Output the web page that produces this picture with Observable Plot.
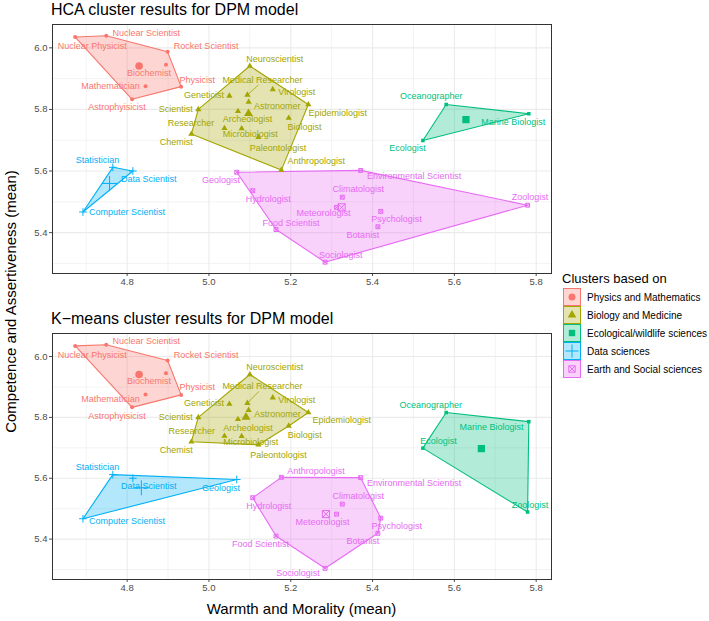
<!DOCTYPE html>
<html>
<head>
<meta charset="utf-8">
<script src="https://cdn.jsdelivr.net/npm/d3@7"></script>
<script src="https://cdn.jsdelivr.net/npm/@observablehq/plot@0.6"></script>
<style>
  html, body { margin:0; padding:0; background:#fff; }
  body { font-family: "Liberation Sans", Arial, Helvetica, sans-serif; }
  #wrap { position:relative; width:709px; height:621px; overflow:hidden; }
  .abs { position:absolute; white-space:nowrap; line-height:1; }
  .ptitle { font-size:16px; color:#000; }
  .atitle { font-size:15px; color:#000; }
</style>
</head>
<body>
<div id="wrap"></div>
<script>
// ---------------- DATA ----------------
const professions = [
  "Nuclear Physicist","Nuclear Scientist","Rocket Scientist","Biochemist","Physicist","Mathematician","Astrophyisicist",
  "Neuroscientist","Medical Researcher","Virologist","Epidemiologist","Geneticist","Astronomer","Scientist",
  "Archeologist","Biologist","Researcher","Microbiologist","Paleontologist","Chemist","Anthropologist",
  "Oceanographer","Marine Biologist","Ecologist","Zoologist",
  "Statistician","Data Scientist","Computer Scientist","Geologist",
  "Environmental Scientist","Climatologist","Meteorologist","Psychologist","Botanist","Sociologist","Food Scientist","Hydrologist"
];
const warmth = [
  4.673, 4.749, 4.899, 4.895, 4.932, 4.845, 4.812,
  5.100, 5.094, 5.156, 5.243, 5.050, 5.097, 4.974,
  5.071, 5.195, 5.038, 5.080, 5.121, 4.957, 5.177,
  5.580, 5.782, 5.523, 5.779,
  4.765, 4.814, 4.692, 5.068,
  5.371, 5.326, 5.312, 5.420, 5.413, 5.284, 5.164, 5.107
];
const competence = [
  6.035, 6.039, 5.987, 5.945, 5.874, 5.875, 5.833,
  5.941, 5.847, 5.865, 5.816, 5.844, 5.824, 5.800,
  5.794, 5.772, 5.739, 5.738, 5.710, 5.720, 5.603,
  5.816, 5.786, 5.699, 5.489,
  5.612, 5.600, 5.467, 5.596,
  5.602, 5.515, 5.482, 5.469, 5.419, 5.304, 5.410, 5.536
];
// cluster index into clusterNames
const hcaCluster = [
  0,0,0,0,0,0,0,
  1,1,1,1,1,1,1,
  1,1,1,1,1,1,1,
  2,2,2,4,
  3,3,3,4,
  4,4,4,4,4,4,4,4
];
const kmeansCluster = [
  0,0,0,0,0,0,0,
  1,1,1,1,1,1,1,
  1,1,1,1,1,1,4,
  2,2,2,2,
  3,3,3,3,
  4,4,4,4,4,4,4,4
];
const clusterNames = ["Physics and Mathematics","Biology and Medicine","Ecological/wildlife sciences","Data sciences","Earth and Social sciences"];
const panelTitles = ["HCA cluster results for DPM model","K\u2212means cluster results for DPM model"];
const xTicks = [4.8, 5.0, 5.2, 5.4, 5.6, 5.8];
const xMinor = [4.7, 4.9, 5.1, 5.3, 5.5, 5.7];
const yTicks = [5.4, 5.6, 5.8, 6.0];
const yMinor = [5.3, 5.5, 5.7, 5.9];
const xTitle = "Warmth and Morality (mean)";
const yTitle = "Competence and Assertiveness (mean)";
const legendTitle = "Clusters based on";

// ---------------- STYLE / LAYOUT ----------------
const clusterColors = ["#F8766D","#A3A500","#00BF7D","#00B0F6","#E76BF3"];
const squareCross = { draw(ctx, size) { const s = Math.sqrt(size) / 2;
  ctx.moveTo(-s,-s); ctx.lineTo(s,-s); ctx.lineTo(s,s); ctx.lineTo(-s,s); ctx.closePath();
  ctx.moveTo(-s,-s); ctx.lineTo(s,s); ctx.moveTo(s,-s); ctx.lineTo(-s,s); } };
const symbolRange = ["circle","triangle","square","plus", squareCross];
const filledCluster = [true,true,true,false,false];
const memberR = [2.0, 2.3, 2.0, 2.6, 2.2];
const centroidR = [3.8, 3.3, 4.1, 4.9, 4.0];

// label offsets (pixels) from each point, repel-style
const hcaNudge = {
  "Nuclear Physicist":[17,9],"Nuclear Scientist":[40,-3],"Rocket Scientist":[38.5,-6],"Biochemist":[-17,8],
  "Physicist":[16,-7],"Mathematician":[-35,0],"Astrophyisicist":[-15,8.3],
  "Neuroscientist":[25,-6.6],"Medical Researcher":[15,-15],"Virologist":[24,3],"Epidemiologist":[29.5,8.7],
  "Geneticist":[-25.5,-0.6],"Astronomer":[28.6,4.3],"Scientist":[-22.6,-0.7],"Archeologist":[9.5,8.3],
  "Biologist":[15.7,9],"Researcher":[-33.4,-5.3],"Microbiologist":[8.7,6],"Paleontologist":[19.6,10.7],
  "Chemist":[-15,8.3],"Anthropologist":[34.8,-9],
  "Oceanographer":[-15,-8.3],"Marine Biologist":[-15.5,8],"Ecologist":[-15.3,8],"Zoologist":[2.4,-8],
  "Statistician":[-15.2,-7.3],"Data Scientist":[16,7.7],"Computer Scientist":[44,0],"Geologist":[-15.7,8],
  "Environmental Scientist":[53.4,5.7],"Climatologist":[16,-8],"Meteorologist":[-13,5.3],"Psychologist":[15.7,7.3],
  "Botanist":[-15,8.3],"Sociologist":[15.7,-7],"Food Scientist":[15,-6.6],"Hydrologist":[15.6,8.6]
};
const kmNudge = {
  "Nuclear Physicist":[17,9],"Nuclear Scientist":[40,-3.6],"Rocket Scientist":[38.5,-5.7],"Biochemist":[-17,8],
  "Physicist":[16,-7.4],"Mathematician":[-35,5],"Astrophyisicist":[-15,8.3],
  "Neuroscientist":[25,-7],"Medical Researcher":[15,-16.7],"Virologist":[24,2.4],"Epidemiologist":[33.5,8],
  "Geneticist":[-25.5,-1.4],"Astronomer":[29,4],"Scientist":[-22.6,-0.6],"Archeologist":[10,8.7],
  "Biologist":[16,9],"Researcher":[-32.7,-5.3],"Microbiologist":[9,6],"Paleontologist":[20,10],
  "Chemist":[-15,8],"Anthropologist":[34.6,-6.3],
  "Oceanographer":[-15.5,-7.4],"Marine Biologist":[-37.4,5.7],"Ecologist":[15.7,-7.4],"Zoologist":[2.4,-7.4],
  "Statistician":[-15.2,-7.6],"Data Scientist":[15.8,8],"Computer Scientist":[44,2.6],"Geologist":[-15.7,8.4],
  "Environmental Scientist":[53.4,5.3],"Climatologist":[16,-7.7],"Meteorologist":[-14,8],"Psychologist":[16,8.3],
  "Botanist":[-15,7.6],"Sociologist":[-27,5],"Food Scientist":[-15.6,7.6],"Hydrologist":[16,8.6]
};
const segName = "Medical Researcher";

const W = 560, ML = 52, MR = 9;
const xExt = d3.extent(warmth), yExt = d3.extent(competence);
const xDomain = [xExt[0] - 0.05*(xExt[1]-xExt[0]), xExt[1] + 0.05*(xExt[1]-xExt[0])];
const yDomain = [yExt[0] - 0.05*(yExt[1]-yExt[0]), yExt[1] + 0.05*(yExt[1]-yExt[0])];

function makePanel(assign, nudge, seg, H, MT, MB) {
  const rows = professions.map((name, i) => ({name, x: warmth[i], y: competence[i], cluster: clusterNames[assign[i]]}));
  const kx = (W - ML - MR) / (xDomain[1] - xDomain[0]);
  const ky = (H - MT - MB) / (yDomain[1] - yDomain[0]);
  const hull = [];
  clusterNames.forEach(c => {
    const pts = rows.filter(r => r.cluster === c).map(r => [r.x, r.y]);
    const h = d3.polygonHull(pts);
    [...h, h[0]].forEach(p => hull.push({cluster: c, x: p[0], y: p[1]}));
  });
  const cent = clusterNames.map(c => {
    const rs = rows.filter(r => r.cluster === c);
    return {cluster: c, x: d3.mean(rs, r => r.x), y: d3.mean(rs, r => r.y)};
  });
  const marks = [
    Plot.ruleX(xMinor, {stroke: "#EBEBEB", strokeWidth: 0.6}),
    Plot.ruleY(yMinor, {stroke: "#EBEBEB", strokeWidth: 0.6}),
    Plot.ruleX(xTicks, {stroke: "#EBEBEB", strokeWidth: 1.1}),
    Plot.ruleY(yTicks, {stroke: "#EBEBEB", strokeWidth: 1.1}),
    Plot.line(hull, {x: "x", y: "y", z: "cluster", stroke: "cluster", fill: "cluster", fillOpacity: 0.3, strokeWidth: 1.1}),
    Plot.link(rows.filter(r => r.name === segName), {
      x1: "x", y1: "y", x2: d => d.x + seg[0] / kx, y2: d => d.y - seg[1] / ky, stroke: "cluster", strokeWidth: 0.8
    })
  ];
  clusterNames.forEach((c, ci) => {
    const mem = rows.filter(r => r.cluster === c);
    const cen = cent.filter(r => r.cluster === c);
    if (filledCluster[ci]) {
      marks.push(Plot.dot(mem, {x: "x", y: "y", symbol: "cluster", fill: "cluster", r: memberR[ci]}));
      marks.push(Plot.dot(cen, {x: "x", y: "y", symbol: "cluster", fill: "cluster", r: centroidR[ci]}));
    } else {
      marks.push(Plot.dot(mem, {x: "x", y: "y", symbol: "cluster", stroke: "cluster", strokeWidth: 1, r: memberR[ci]}));
      marks.push(Plot.dot(cen, {x: "x", y: "y", symbol: "cluster", stroke: "cluster", strokeWidth: 1, r: centroidR[ci]}));
    }
  });
  marks.push(Plot.text(rows, {
    x: d => d.x + nudge[d.name][0] / kx, y: d => d.y - nudge[d.name][1] / ky,
    text: "name", fill: "cluster", fontSize: 9, textAnchor: "middle", lineAnchor: "middle"
  }));
  marks.push(Plot.frame({stroke: "#333333", strokeWidth: 1}));
  return Plot.plot({
    width: W, height: H, marginLeft: ML, marginRight: MR, marginTop: MT, marginBottom: MB,
    style: {fontFamily: "'Liberation Sans', Arial, sans-serif", fontSize: "9.5px", color: "#4D4D4D", background: "none", overflow: "visible"},
    x: {domain: xDomain, ticks: xTicks, tickFormat: d => d.toFixed(1), tickSize: 3, tickPadding: 2, label: null},
    y: {domain: yDomain, ticks: yTicks, tickFormat: d => d.toFixed(1), tickSize: 3, tickPadding: 2, label: null},
    color: {domain: clusterNames, range: clusterColors},
    symbol: {domain: clusterNames, range: symbolRange},
    marks
  });
}

const wrap = document.getElementById("wrap");
function addDiv(cls, text, css) {
  const d = document.createElement("div");
  d.className = "abs " + cls; d.textContent = text;
  Object.assign(d.style, css); wrap.appendChild(d); return d;
}

const hcaChart = makePanel(hcaCluster, hcaNudge, [11, -10], 300, 24, 27);
hcaChart.style.position = "absolute"; hcaChart.style.left = "0px"; hcaChart.style.top = "0px";
wrap.appendChild(hcaChart);
const kmChart = makePanel(kmeansCluster, kmNudge, [11.5, -11.7], 321, 33, 42);
kmChart.style.position = "absolute"; kmChart.style.left = "0px"; kmChart.style.top = "300px";
wrap.appendChild(kmChart);

addDiv("ptitle", panelTitles[0], {left: "51px", top: "2px"});
addDiv("ptitle", panelTitles[1], {left: "51px", top: "311px"});
addDiv("atitle", xTitle, {left: "151.5px", width: "300px", textAlign: "center", top: "601px"});
addDiv("atitle", yTitle, {left: "-140.5px", width: "300px", textAlign: "center", top: "294px", transform: "rotate(-90deg)"});

// legend
const leg = d3.create("svg").attr("width", 149).attr("height", 120)
  .style("position", "absolute").style("left", "560px").style("top", "270px")
  .style("font-family", "'Liberation Sans', Arial, sans-serif");
leg.append("text").attr("x", 2).attr("y", 13).attr("font-size", 13).attr("fill", "#000").text(legendTitle);
const legR = [3.5, 3.2, 3.6, 4.3, 3.6];
clusterNames.forEach((c, i) => {
  const cy = 27 + 18 * i;
  const g = leg.append("g");
  g.append("rect").attr("x", 3.5).attr("y", cy - 8.5).attr("width", 17).attr("height", 17)
    .attr("fill", clusterColors[i]).attr("fill-opacity", 0.3).attr("stroke", clusterColors[i]).attr("stroke-width", 1);
  const symType = i === 0 ? d3.symbolCircle : i === 1 ? d3.symbolTriangle : i === 2 ? d3.symbolSquare : i === 3 ? d3.symbolPlus : squareCross;
  const p = g.append("path").attr("transform", `translate(12,${cy})`)
    .attr("d", d3.symbol(symType, Math.PI * legR[i] * legR[i])());
  if (filledCluster[i]) p.attr("fill", clusterColors[i]);
  else p.attr("fill", "none").attr("stroke", clusterColors[i]).attr("stroke-width", 1);
  g.append("text").attr("x", 27).attr("y", cy).attr("dy", "0.35em").attr("font-size", 10).attr("fill", "#000").text(c);
});
wrap.appendChild(leg.node());
</script>
</body>
</html>
